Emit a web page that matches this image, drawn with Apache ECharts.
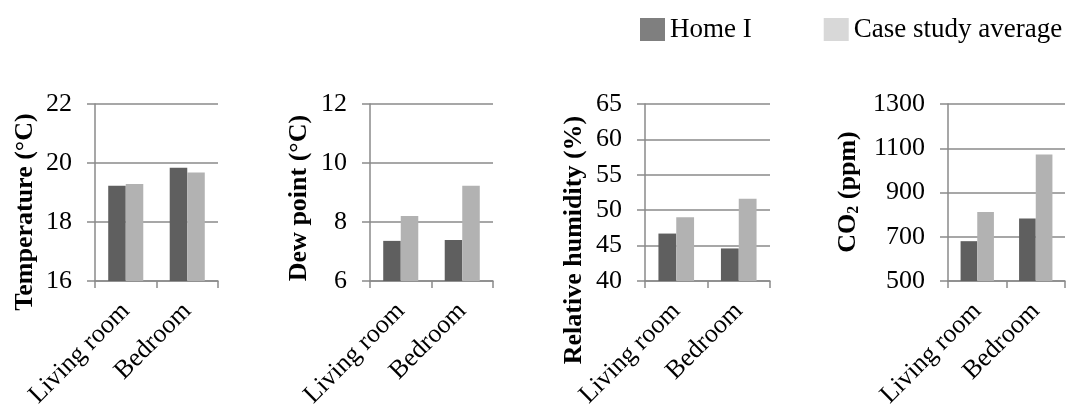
<!DOCTYPE html>
<html>
<head>
<meta charset="utf-8">
<script src="https://cdn.jsdelivr.net/npm/echarts@6/dist/echarts.min.js"></script>
<style>
html,body{margin:0;padding:0;background:#fff;}
#chart{width:1076px;height:407px;}
</style>
</head>
<body>
<div id="chart"></div>
<script>
var categories = ['Living room', 'Bedroom'];
var seriesNames = ['Home I', 'Case study average'];

var tempHome = [19.23, 19.84];
var tempAvg = [19.29, 19.68];
var dewHome = [7.36, 7.39];
var dewAvg = [8.2, 9.23];
var rhHome = [46.7, 44.6];
var rhAvg = [49.0, 51.6];
var co2Home = [680, 782];
var co2Avg = [812, 1072];

var yRanges = [[16, 22, 2], [6, 12, 2], [40, 65, 5], [500, 1300, 200]];
var yTitles = ['Temperature (°C)', 'Dew point (°C)', 'Relative humidity (%)', '{a|CO}{s|2}{a| (ppm)}'];

var FONT = '"Liberation Serif", "Times New Roman", serif';
var AXIS_COLOR = '#8a8a8a';
var BAR_DARK = '#5f5f5f';
var BAR_LIGHT = '#b2b2b2';

var grids = [
  {left: 95, top: 104, width: 123, height: 177, outerBoundsMode: 'none', containLabel: false},
  {left: 370, top: 104, width: 123, height: 177, outerBoundsMode: 'none', containLabel: false},
  {left: 645, top: 104, width: 125, height: 177, outerBoundsMode: 'none', containLabel: false},
  {left: 948, top: 104, width: 117, height: 177, outerBoundsMode: 'none', containLabel: false}
];
var titlePos = [[25, 212], [299, 198], [574, 240], [848, 192]];
var seriesData = [[tempHome, tempAvg], [dewHome, dewAvg], [rhHome, rhAvg], [co2Home, co2Avg]];

var xAxes = [], yAxes = [], series = [], graphics = [];
for (var i = 0; i < 4; i++) {
  xAxes.push({
    type: 'category', gridIndex: i, data: categories,
    axisLine: {show: true, lineStyle: {color: AXIS_COLOR, width: 1.5}},
    axisTick: {show: true, length: 7, lineStyle: {color: AXIS_COLOR, width: 1.5}},
    axisLabel: {rotate: 45, margin: 26, color: '#000', fontFamily: FONT, fontSize: 26, interval: 0},
    splitLine: {show: false}
  });
  yAxes.push({
    type: 'value', gridIndex: i,
    min: yRanges[i][0], max: yRanges[i][1], interval: yRanges[i][2],
    axisLine: {show: true, lineStyle: {color: AXIS_COLOR, width: 1.5}},
    axisTick: {show: true, length: 8, lineStyle: {color: AXIS_COLOR, width: 1.5}},
    axisLabel: {margin: 23, color: '#000', fontFamily: FONT, fontSize: 26,
      formatter: function (v) { return String(v); }},
    splitLine: {show: true, lineStyle: {color: AXIS_COLOR, width: 1.5}}
  });
  series.push({
    name: seriesNames[0], type: 'bar', xAxisIndex: i, yAxisIndex: i,
    data: seriesData[i][0], barGap: '0%', barCategoryGap: '43%',
    itemStyle: {color: BAR_DARK}
  });
  series.push({
    name: seriesNames[1], type: 'bar', xAxisIndex: i, yAxisIndex: i,
    data: seriesData[i][1], barGap: '0%', barCategoryGap: '43%',
    itemStyle: {color: BAR_LIGHT}
  });
  graphics.push({
    type: 'text', x: titlePos[i][0], y: titlePos[i][1], rotation: Math.PI / 2,
    style: {
      text: yTitles[i], align: 'center', verticalAlign: 'middle',
      font: 'bold 26px ' + FONT, fill: '#000',
      rich: {
        a: {font: 'bold 26px ' + FONT, fill: '#000'},
        s: {font: 'bold 16px ' + FONT, fill: '#000', padding: [12, 0, 0, 0]}
      }
    }
  });
}

var chart = echarts.init(document.getElementById('chart'), null, {renderer: 'canvas'});
chart.setOption({
  animation: false,
  backgroundColor: '#fff',
  legend: {
    left: 635, top: 11,
    itemWidth: 25, itemHeight: 23, itemGap: 72,
    icon: 'rect',
    textStyle: {fontFamily: FONT, fontSize: 27, color: '#000'},
    data: [
      {name: seriesNames[0], itemStyle: {color: '#7f7f7f'}},
      {name: seriesNames[1], itemStyle: {color: '#d8d8d8'}}
    ]
  },
  grid: grids,
  xAxis: xAxes,
  yAxis: yAxes,
  series: series,
  graphic: graphics
});
</script>
</body>
</html>
